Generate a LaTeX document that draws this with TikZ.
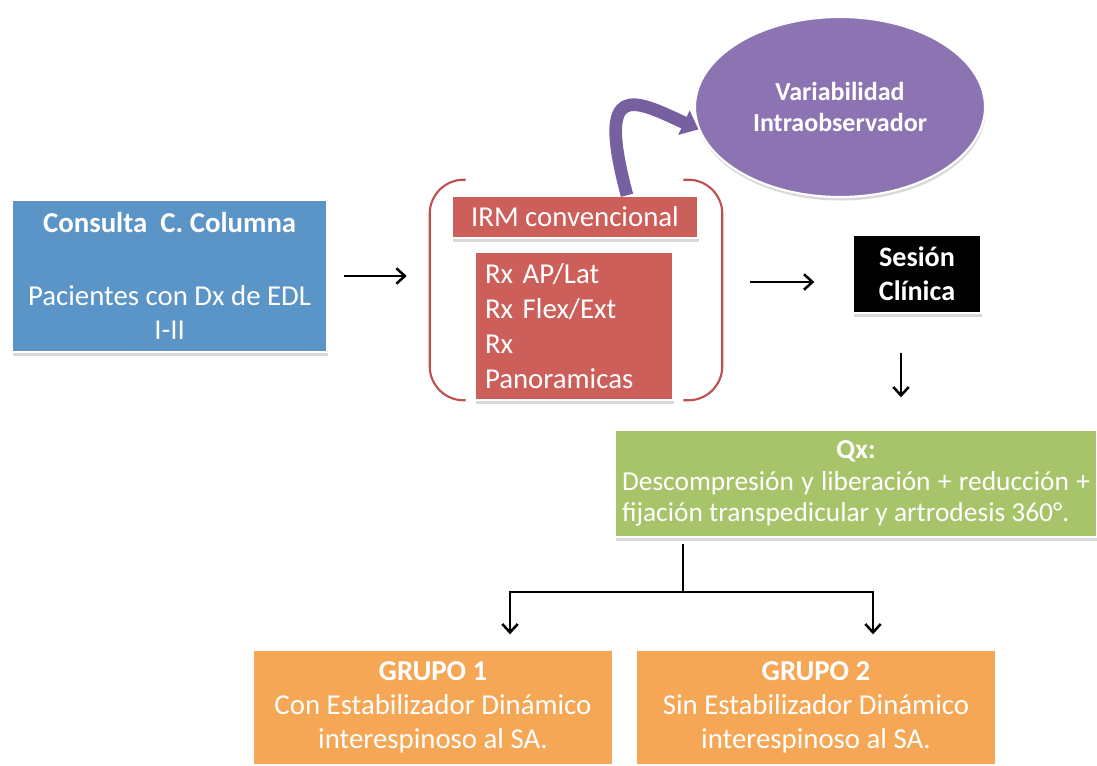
\documentclass[tikz,border=0pt]{standalone}
\usepackage{fontspec}
\setmainfont{Carlito}
\usepackage{xcolor}
\definecolor{blueblock}{RGB}{91,148,198}
\definecolor{redblock}{RGB}{204,95,90}
\definecolor{redline}{RGB}{192,80,77}
\definecolor{purpleblock}{RGB}{140,116,179}
\definecolor{purplearrow}{RGB}{118,96,160}
\definecolor{greenblock}{RGB}{168,196,106}
\definecolor{orangeblock}{RGB}{245,167,85}
\usepackage{tikz}
\usetikzlibrary{shapes.geometric,arrows.meta,positioning,calc,shadows}

\begin{document}
\begin{tikzpicture}[
  font=\fontsize{20.5}{24.5}\selectfont,
  box/.style={
    rectangle, fill=#1, draw=white, line width=1pt,
    text=white, align=center, inner sep=0pt,
    drop shadow={shadow xshift=0.5pt, shadow yshift=-2.5pt, opacity=0.3}
  },
  bracket/.style={draw=redline, line width=1.5pt, rounded corners=0.85cm},
  arr/.style={-{Straight Barb[length=6pt,width=11pt]}, line width=1.8pt}
]
\useasboundingbox (0,0) rectangle (27.425,19.125);

\node[box=blueblock, minimum width=7.875cm, minimum height=3.8cm] (consulta) at (4.24,12.225) {\textbf{Consulta\ \ C. Columna}\\[27pt]Pacientes con Dx de EDL\\I-II};

\node[minimum width=7.3cm, minimum height=5.5cm] (estudios) at (14.4,11.875) {};
\draw[bracket] ([xshift=0.9cm]estudios.north west) -- (estudios.north west) -- (estudios.south west) -- ([xshift=0.9cm]estudios.south west);
\draw[bracket] ([xshift=-0.975cm]estudios.north east) -- (estudios.north east) -- (estudios.south east) -- ([xshift=-0.975cm]estudios.south east);
\node[box=redblock, minimum width=6.15cm, minimum height=1.05cm] (irm) at (14.375,13.7) {IRM convencional};
\node[box=redblock, minimum width=4.95cm, minimum height=3.7cm, text width=4.45cm, align=left, font=\fontsize{20.5}{25}\selectfont] (rx) at (14.35,10.975) {Rx AP/Lat\\Rx Flex/Ext\\Rx\\Panoramicas};

\node[ellipse, fill=purpleblock, draw=white, line width=1.5pt, text=white, minimum width=7.25cm, minimum height=4.5cm, inner sep=0pt, align=center, font=\fontsize{18.5}{22}\selectfont\bfseries, drop shadow={shadow xshift=0.5pt, shadow yshift=-2.5pt, opacity=0.3}] (varia) at (21.0,16.45) {Variabilidad\\Intraobservador};
\draw[purplearrow, line width=9pt, -{Triangle[length=0.4cm,width=0.65cm]}] ([xshift=1.3cm]irm.north) .. controls +(105:3) and +(155:1.8) .. (varia.189);

\node[box=black, minimum width=3.2cm, minimum height=1.95cm, font=\fontsize{20}{24}\selectfont\bfseries] (sesion) at (22.925,12.275) {Sesión\\Clínica};

\node[box=greenblock, minimum width=12.05cm, minimum height=2.675cm, text width=11.7cm, align=justify, font=\fontsize{19.5}{22.5}\selectfont] (qx) at (21.4,7.0375) {{\centering\textbf{Qx:}\par}Descompresión y liberación + reducción +\linebreak fijación transpedicular y artrodesis 360°.};

\node[box=orangeblock, minimum width=9cm, minimum height=2.875cm, font=\fontsize{20.5}{24.2}\selectfont] (grupo1) at (10.825,1.4375) {\textbf{GRUPO 1}\\Con Estabilizador Dinámico\\interespinoso al SA.};
\node[box=orangeblock, minimum width=9cm, minimum height=2.875cm, font=\fontsize{20.5}{24.2}\selectfont] (grupo2) at (20.4,1.4375) {\textbf{GRUPO 2}\\Sin Estabilizador Dinámico\\interespinoso al SA.};

\draw[arr, shorten <=0.4cm, shorten >=0.575cm] (consulta.east) -- (consulta.east -| estudios.west);
\draw[arr, shorten <=0.7cm, shorten >=0.95cm] ([yshift=-0.2cm]estudios.east |- sesion.west) -- ([yshift=-0.2cm]sesion.west);
\draw[arr, shorten <=0.975cm, shorten >=0.8cm] ([xshift=-0.4cm]sesion.south) -- ([xshift=-0.4cm]sesion.south |- qx.north);

\coordinate (fork) at (17.075,4.325);
\draw[line width=1.8pt] ([yshift=-0.15cm]qx.south -| fork) -- (fork);
\foreach \g/\dx in {grupo1/1.925,grupo2/1.425} {
  \draw[arr] (fork) -| ([xshift=\dx cm, yshift=0.375cm]\g.north);
}
\end{tikzpicture}
\end{document}
